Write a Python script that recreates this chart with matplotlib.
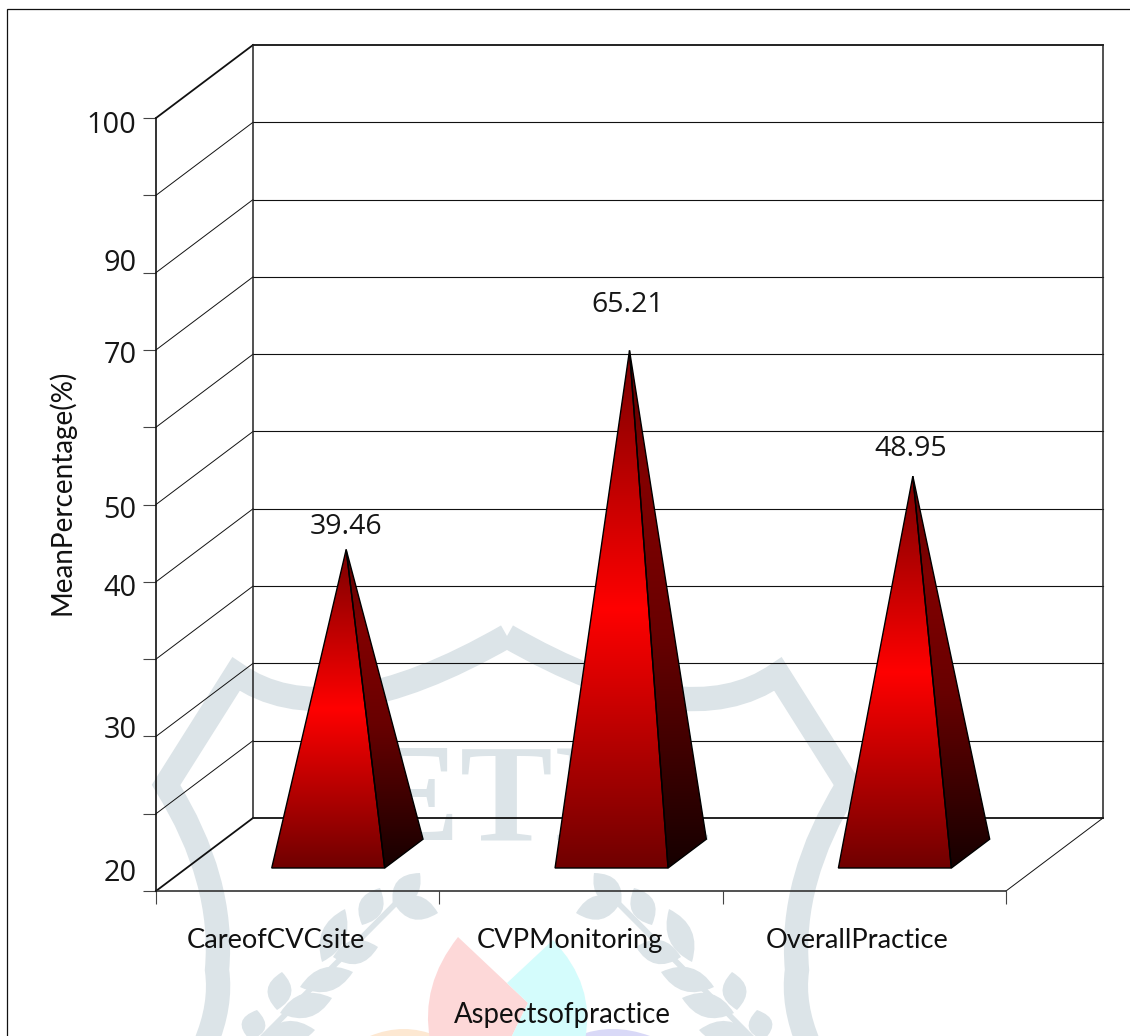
import numpy as np
import matplotlib
matplotlib.use("Agg")
import matplotlib.pyplot as plt
from matplotlib.colors import LinearSegmentedColormap
from matplotlib.patches import Polygon, PathPatch
from matplotlib.path import Path

# ---- data ----
categories = ["CareofCVCsite", "CVPMonitoring", "OverallPractice"]
values = [39.46, 65.21, 48.95]
value_label_offsets_px = [(0, 22), (-2, 45), (-2, 27)]
category_label_positions = [0.425, 1.461, 2.474]
y_grid = list(range(0, 101, 10))
y_tick_labels = ["20", "30", "40", "50", "70", "90", "100"]
y_tick_label_positions = [2.7, 21.2, 39.6, 49.7, 69.7, 81.6, 99.5]
x_label = "Aspectsofpractice"
y_label = "MeanPercentage(%)"

# ---- layout (pixels) ----
W, H = 1130, 1036
L, R, T, B = 156, 1006, 118, 891
DPX, DPY = 97, 73
plt.rcParams["font.family"] = ["Lato", "DejaVu Sans"]
INK = "#161616"
WM = "#dce4e8"

fig = plt.figure(figsize=(W / 100, H / 100), dpi=100, facecolor="white")

# ---- page backdrop: watermark and frame ----
bg = fig.add_axes([0, 0, 1, 1], zorder=-1)
bg.set_xlim(0, W)
bg.set_ylim(H, 0)
bg.axis("off")


def lens(p, q, w, color=WM):
    p, q = np.array(p, float), np.array(q, float)
    d = q - p
    n = np.array([-d[1], d[0]]) / np.hypot(*d)
    c1 = (p + q) / 2 + n * w
    c2 = (p + q) / 2 - n * w
    verts = [p, c1, q, c2, p]
    codes = [Path.MOVETO, Path.CURVE3, Path.CURVE3, Path.CURVE3, Path.CURVE3]
    bg.add_patch(PathPatch(Path(verts, codes), fc=color, ec="none"))


def mirror(x):
    return 2 * 507 - x


shield_verts = [(507, 636), (328, 739), (236, 674), (166, 785), (225, 880), (217, 970), (222, 1005), (205, 1045)]
shield_codes = [Path.MOVETO, Path.CURVE3, Path.CURVE3, Path.LINETO, Path.CURVE3, Path.CURVE3, Path.CURVE3, Path.CURVE3]
for flip in (False, True):
    vs = [(mirror(x) if flip else x, y) for x, y in shield_verts]
    bg.add_patch(PathPatch(Path(vs, shield_codes), fc="none", ec=WM, lw=17.5,
                           joinstyle="miter", capstyle="butt"))
bg.text(503, 840, "JETIR", family="Liberation Serif", weight="bold", fontsize=100, color=WM,
        ha="center", va="baseline")

upper_leaves = [((393, 905), (420, 873)), ((362, 925), (380, 888)), ((322, 962), (345, 909)),
                ((277, 1010), (282, 972)), ((250, 1040), (257, 1010))]
lower_leaves = [((393, 902), (438, 913)), ((333, 957), (378, 947)), ((300, 987), (353, 972)),
                ((280, 1013), (332, 998)), ((262, 1036), (315, 1030))]
for p, q in upper_leaves + lower_leaves:
    lens(p, q, 24)
    lens((mirror(p[0]), p[1]), (mirror(q[0]), q[1]), 24)
bg.plot([402, 250], [897, 1050], color=WM, lw=4)
bg.plot([mirror(402), mirror(250)], [897, 1050], color=WM, lw=4)

for col, pts in (("#fde8d2", [(370, 1036), (404, 1022), (437, 1036)]),
                 ("#d9d9f7", [(577, 1036), (612, 1022), (650, 1036)])):
    bg.add_patch(PathPatch(Path(pts + [pts[0]], [Path.MOVETO, Path.CURVE3, Path.CURVE3, Path.LINETO]),
                           fc=col, ec="none"))
pink = [(458, 937), (420, 985), (430, 1040)]
bg.add_patch(PathPatch(Path(pink + [(510, 1040), (528, 1003), (458, 937)],
                            [Path.MOVETO, Path.CURVE3, Path.CURVE3, Path.LINETO, Path.LINETO, Path.LINETO]),
                       fc="#fdd8d8", ec="none"))
cyan = [(553, 940), (596, 985), (585, 1040)]
bg.add_patch(PathPatch(Path(cyan + [(510, 1040), (528, 1003), (507, 983), (553, 940)],
                            [Path.MOVETO, Path.CURVE3, Path.CURVE3, Path.LINETO, Path.LINETO, Path.LINETO, Path.LINETO]),
                       fc="#d4fcfc", ec="none"))
bg.plot([7, 7, W], [H, 9, 9], color="#111111", lw=0.9, solid_joinstyle="miter")

# ---- chart axes: the front plane of the oblique box ----
ax = fig.add_axes([L / W, 1 - B / H, (R - L) / W, (B - T) / H], facecolor="none")
ax.set_xlim(0, len(categories))
ax.set_ylim(0, 100)
px_x = len(categories) / (R - L)
px_y = 100 / (B - T)
DX, DY = DPX * px_x, DPY * px_y


def proj(x, v, depth):
    return x + DX * depth, v + DY * depth


def seg(a, b, lw=0.8, color="#111111", z=2):
    ax.plot([a[0], b[0]], [a[1], b[1]], color=color, lw=lw, clip_on=False, zorder=z,
            solid_capstyle="projecting")


nx = len(categories)
for v in y_grid:
    bold = v == 100 or v == 0
    seg(proj(0, v, 1), proj(nx, v, 1), lw=1.3 if bold else 0.8)
    seg(proj(0, v, 0), proj(0, v, 1), lw=1.3 if bold else 0.7)
seg(proj(0, 0, 1), proj(0, 100, 1), lw=1.1, color="#222222")
seg(proj(nx, 0, 1), proj(nx, 100, 1), lw=1.1, color="#222222")
seg(proj(nx, 0, 0), proj(nx, 0, 1), lw=0.7)

front_cmap = LinearSegmentedColormap.from_list(
    "front", [(0, "#700000"), (0.5, "#ff0000"), (1, "#7a0000")])
side_cmap = LinearSegmentedColormap.from_list(
    "side", [(0, "#160000"), (0.45, "#680000"), (0.75, "#820000"), (1, "#5a0000")])

HALF = 56.5 * px_x
D_FRONT, D_BACK, D_MID = 0.315, 0.71, 0.5
for i, val in enumerate(values):
    xc = i + 0.5
    fl = proj(xc - HALF, 0, D_FRONT)
    fr = proj(xc + HALF, 0, D_FRONT)
    br = proj(xc + HALF, 0, D_BACK)
    apex = proj(xc, val, D_MID)
    for pts, cmap in (((fr, br, apex), side_cmap), ((fl, fr, apex), front_cmap)):
        poly = Polygon(pts, closed=True, fc="none", ec="black", lw=1.0, zorder=4,
                       transform=ax.transData, clip_on=False, joinstyle="miter")
        ax.add_patch(poly)
        xa = [p[0] for p in pts]
        ya = [p[1] for p in pts]
        grad = np.linspace(1, 0, 256).reshape(-1, 1)
        im = ax.imshow(grad, cmap=cmap, vmin=0, vmax=1, aspect="auto", zorder=3,
                       extent=(min(xa), max(xa), min(ya), max(ya)), interpolation="bilinear")
        clip = Polygon(pts, closed=True, transform=ax.transData)
        im.set_clip_path(clip)
    ax.annotate(f"{val:.2f}", xy=apex, xytext=value_label_offsets_px[i],
                textcoords="offset pixels", ha="center", va="center",
                fontsize=20.5, family="Open Sans", color=INK, zorder=6, annotation_clip=False)

ax.set_xlim(0, nx)
ax.set_ylim(0, 100)

for s in ("top", "right"):
    ax.spines[s].set_visible(False)
ax.spines["left"].set_linewidth(1.2)
ax.spines["left"].set_color("#111111")
ax.spines["bottom"].set_linewidth(1.2)
ax.spines["bottom"].set_color("#333333")
ax.spines["left"].set_zorder(5)

ax.set_yticks(y_grid)
ax.set_yticklabels([])
ax.set_xticks(range(nx + 1))
ax.set_xticklabels([])
ax.tick_params(axis="both", which="major", length=9.5, width=0.8, color="#444444")
ax.set_yticks(y_tick_label_positions, y_tick_labels, minor=True)
ax.set_xticks(category_label_positions, categories, minor=True)
ax.tick_params(axis="y", which="minor", length=0, pad=14, labelsize=20.8, labelcolor=INK)
ax.tick_params(axis="x", which="minor", length=0, pad=26.5, labelsize=19.6, labelcolor="#111111")
for t in ax.get_yticklabels(minor=True):
    t.set_family("Open Sans")

fig.text(62 / W, 1 - 492 / H, y_label, rotation=90, ha="center", va="center",
         fontsize=20.1, color="#111111")
fig.text(562 / W, 1 - 1015 / H, x_label, ha="center", va="center",
         fontsize=19.8, color="#111111")

fig.savefig("out.png", dpi=100)
